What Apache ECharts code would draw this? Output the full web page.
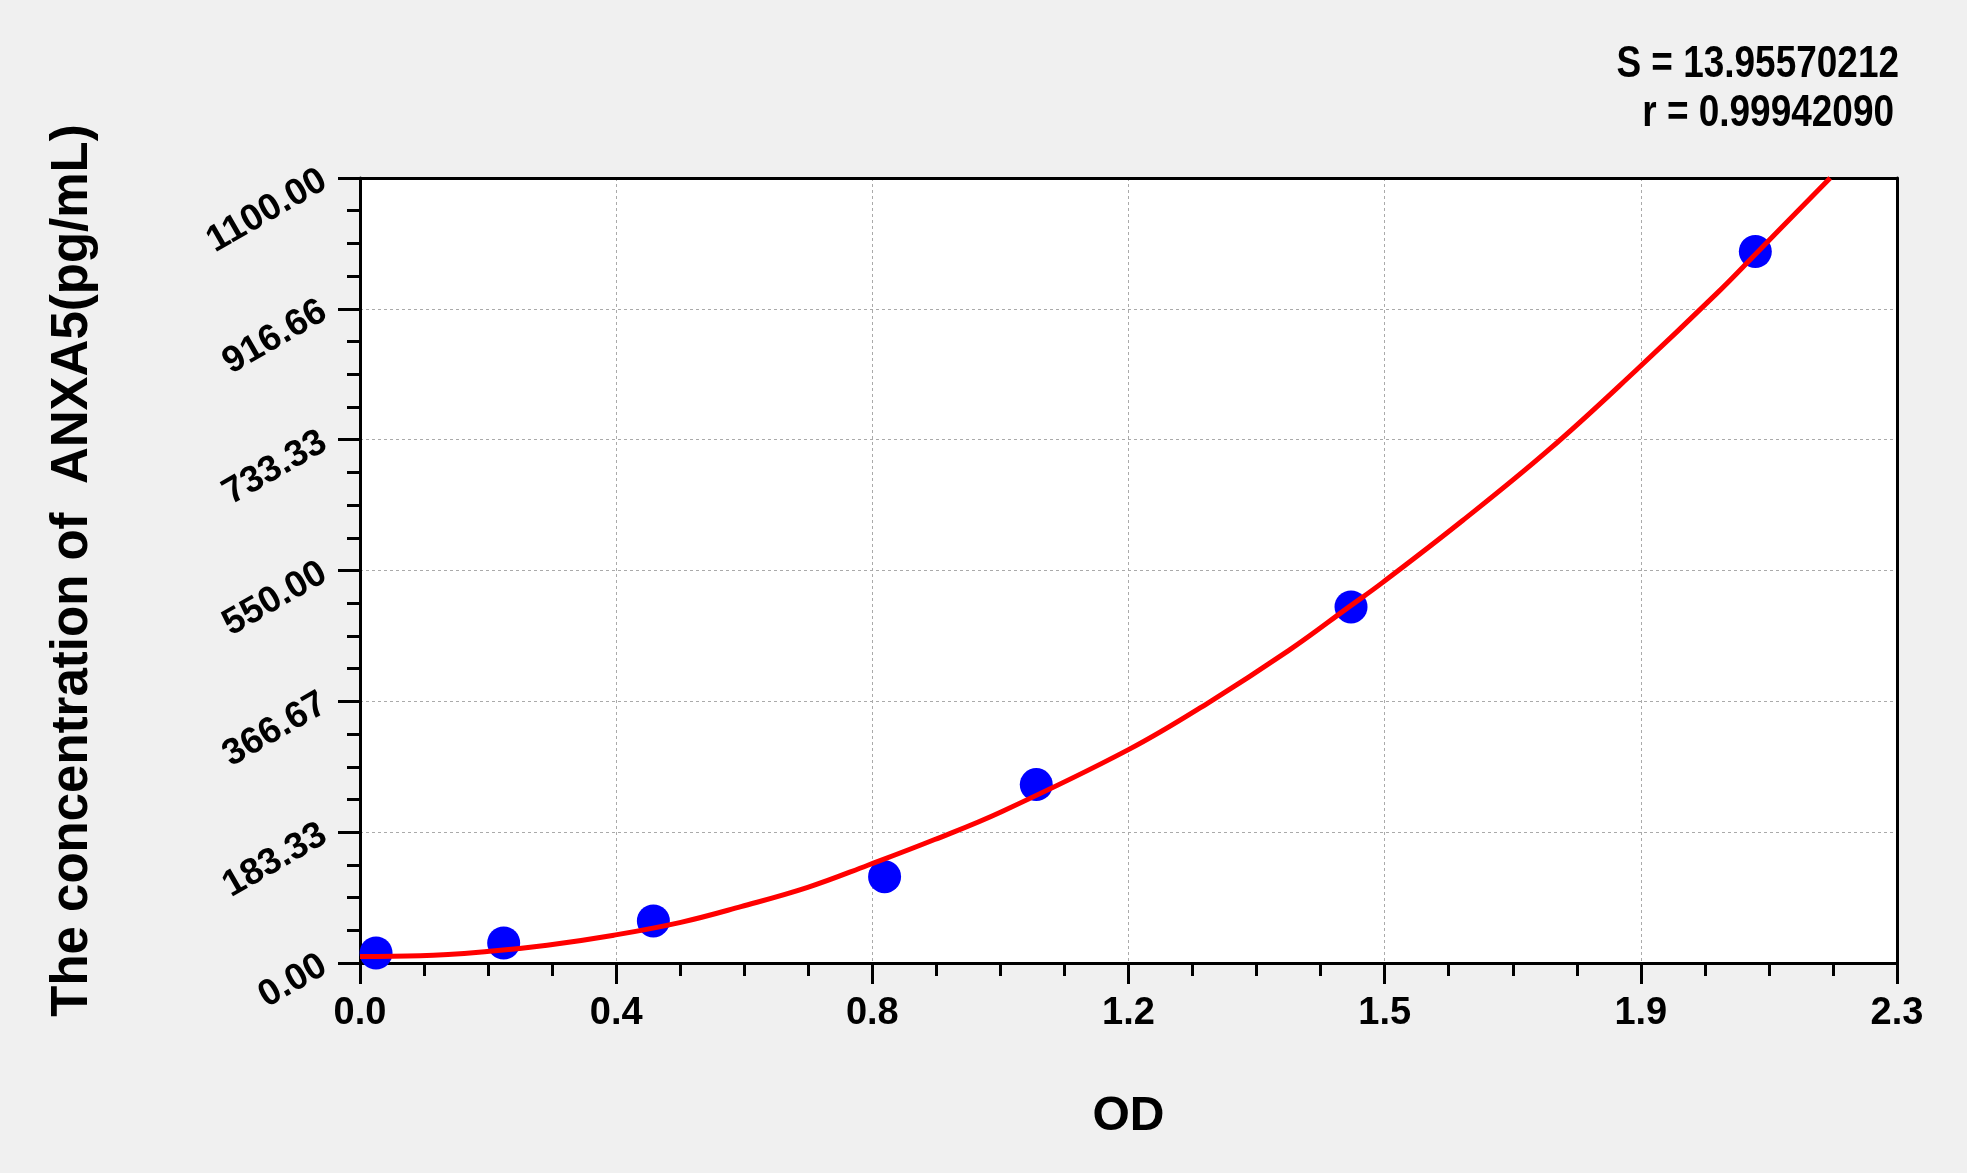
<!DOCTYPE html>
<html>
<head>
<meta charset="utf-8">
<title>ANXA5 standard curve</title>
<script src="https://cdn.jsdelivr.net/npm/echarts@6.0.0/dist/echarts.min.js"></script>
<style>
  html, body { margin: 0; padding: 0; background: #f0f0f0; }
  #chart { width: 1967px; height: 1173px; }
</style>
</head>
<body>
<div id="chart"></div>
<script>
// standard points (OD vs concentration)
const pointOD = [0.024, 0.215, 0.439, 0.785, 1.012, 1.483, 2.088];
const pointConc = [14, 28, 59, 121, 250, 499, 997];

// fitted curve
const curveOD = [0, 0.09, 0.19, 0.28, 0.38, 0.48, 0.57, 0.67, 0.76, 0.86, 0.96, 1.15, 1.27, 1.39, 1.48, 1.53, 1.65, 1.78, 1.91, 2.03, 2.09, 2.2];
const curveConc = [9, 10, 16, 25, 39, 57, 79, 106, 137, 173, 212, 299, 365, 438, 499, 533, 620, 720, 831, 938, 995, 1100];

// tick labels
const xTickLabels = ['0.0', '0.4', '0.8', '1.2', '1.5', '1.9', '2.3'];
const yTickLabels = ['0.00', '183.33', '366.67', '550.00', '733.33', '916.66', '1100.00'];
const xMax = 2.3;
const yMax = 1100;

const fitText = ['S = 13.95570212', 'r = 0.99942090'];

const xStep = xMax / (xTickLabels.length - 1);
const yStep = yMax / (yTickLabels.length - 1);

const chart = echarts.init(document.getElementById('chart'));

const gridLine = { show: true, showMinLine: false, showMaxLine: false, lineStyle: { color: '#aaaaaa', width: 1, type: [3, 3] } };
const frameLine = { show: true, onZero: false, lineStyle: { color: '#000', width: 3 } };
const fitFont = 'bold 44px "Liberation Sans Narrow", "Liberation Sans", sans-serif';

chart.setOption({
    backgroundColor: '#f0f0f0',
    animation: false,
    grid: {
        left: 360, top: 178, right: 70, bottom: 210,
        show: true,
        backgroundColor: '#ffffff',
        borderWidth: 0,
        containLabel: false,
        outerBoundsMode: 'none'
    },
    graphic: [
        {
            type: 'text', x: 1899, y: 65, scaleX: 0.84,
            style: { x: 0, y: 0, text: fitText[0], font: fitFont, fill: '#000', textAlign: 'right', textVerticalAlign: 'middle' }
        },
        {
            type: 'text', x: 1894, y: 114, scaleX: 0.84,
            style: { x: 0, y: 0, text: fitText[1], font: fitFont, fill: '#000', textAlign: 'right', textVerticalAlign: 'middle' }
        }
    ],
    xAxis: [{
        type: 'value',
        min: 0, max: xMax, interval: xStep,
        name: 'OD',
        nameLocation: 'middle',
        nameGap: 130,
        nameTextStyle: { fontFamily: 'Liberation Sans', fontWeight: 'bold', fontSize: 48, color: '#000' },
        axisLine: frameLine,
        axisTick: { show: true, inside: false, length: 21, lineStyle: { color: '#000', width: 3 } },
        minorTick: { show: true, splitNumber: 4, length: 13, lineStyle: { color: '#000', width: 3 } },
        splitLine: gridLine,
        axisLabel: {
            margin: 32,
            fontFamily: '"Liberation Sans Narrow", "Liberation Sans", sans-serif',
            fontWeight: 'bold', fontSize: 38, color: '#000',
            showMinLabel: true, showMaxLabel: true, hideOverlap: false,
            formatter: v => xTickLabels[Math.round(v / xStep)]
        }
    }, {
        // top frame edge
        type: 'value', position: 'top', min: 0, max: xMax,
        axisLine: frameLine, axisTick: { show: false }, axisLabel: { show: false }, splitLine: { show: false }
    }],
    yAxis: [{
        type: 'value',
        min: 0, max: yMax, interval: yStep,
        name: 'The concentration of  ANXA5(pg/mL)',
        nameLocation: 'middle',
        nameRotate: 90,
        nameGap: 262,
        nameTextStyle: { fontFamily: 'Liberation Sans', fontWeight: 'bold', fontSize: 51, color: '#000' },
        axisLine: frameLine,
        axisTick: { show: true, inside: false, length: 22, lineStyle: { color: '#000', width: 3 } },
        minorTick: { show: true, splitNumber: 4, length: 13, lineStyle: { color: '#000', width: 3 } },
        splitLine: gridLine,
        axisLabel: {
            margin: 36,
            rotate: 30,
            fontFamily: 'Liberation Sans',
            fontWeight: 'bold', fontSize: 37, color: '#000',
            showMinLabel: true, showMaxLabel: true, hideOverlap: false,
            formatter: v => yTickLabels[Math.round(v / yStep)]
        }
    }, {
        // right frame edge
        type: 'value', position: 'right', min: 0, max: yMax,
        axisLine: frameLine, axisTick: { show: false }, axisLabel: { show: false }, splitLine: { show: false }
    }],
    series: [
        {
            type: 'scatter',
            data: pointOD.map((x, i) => [x, pointConc[i]]),
            symbol: 'circle',
            symbolSize: 33,
            itemStyle: { color: '#0000ff', opacity: 1 },
            z: 2
        },
        {
            type: 'line',
            data: curveOD.map((x, i) => [x, curveConc[i]]),
            smooth: 0.4,
            showSymbol: false,
            lineStyle: { color: '#ff0000', width: 5 },
            clip: true,
            z: 3
        }
    ]
});
</script>
</body>
</html>
